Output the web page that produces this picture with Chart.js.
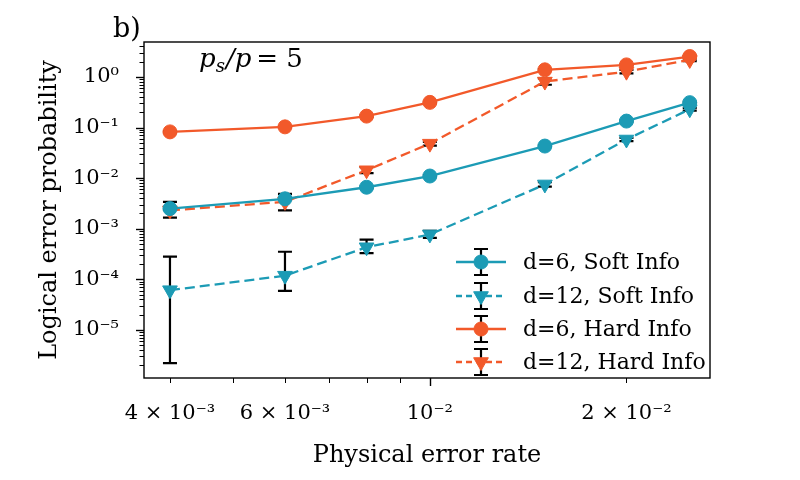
<!DOCTYPE html>
<html>
<head>
<meta charset="utf-8">
<script src="https://cdn.jsdelivr.net/npm/chart.js@4.4.1/dist/chart.umd.min.js"></script>
<style>
  html, body { margin: 0; padding: 0; background: #fff; }
  #c { display: block; }
</style>
</head>
<body>
<canvas id="c" width="800" height="480"></canvas>
<script>
// physical error rates (x)
const pRates = [0.004, 0.006, 0.008, 0.01, 0.015, 0.02, 0.025];

// logical error probabilities
const softD6 = [2.5e-3, 3.9e-3, 6.6e-3, 1.1e-2, 4.3e-2, 0.134, 0.31];
const softD12 = [6.1e-5, 1.18e-4, 4.3e-4, 7.7e-4, 7.5e-3, 0.058, 0.23];
const hardD6 = [0.082, 0.103, 0.168, 0.314, 1.38, 1.73, 2.53];
const hardD12 = [2.3e-3, 3.4e-3, 0.0143, 0.048, 0.81, 1.27, 2.17];

// error bar bounds (lower / upper)
const softD6Lo = [2.35e-3, 3.7e-3, 6.3e-3, 1.05e-2, 4.15e-2, 0.13, 0.30];
const softD6Hi = [2.65e-3, 4.1e-3, 6.9e-3, 1.15e-2, 4.45e-2, 0.138, 0.32];
const softD12Lo = [2.2e-6, 5.9e-5, 3.3e-4, 6.6e-4, 6.8e-3, 0.054, 0.215];
const softD12Hi = [2.8e-4, 3.5e-4, 6.1e-4, 9.1e-4, 8.3e-3, 0.062, 0.245];
const hardD6Lo = [0.079, 0.1, 0.163, 0.305, 1.34, 1.68, 2.46];
const hardD6Hi = [0.085, 0.106, 0.173, 0.323, 1.42, 1.78, 2.6];
const hardD12Lo = [1.65e-3, 2.3e-3, 0.0125, 0.044, 0.7, 1.18, 2.05];
const hardD12Hi = [3.4e-3, 4.9e-3, 0.0165, 0.052, 0.93, 1.37, 2.3];

const seriesNames = ['d=6, Soft Info', 'd=12, Soft Info', 'd=6, Hard Info', 'd=12, Hard Info'];

// axis ticks
const xTickVals = [0.004, 0.005, 0.006, 0.007, 0.008, 0.009, 0.01, 0.02];
const xTickLabels = { 0.004: '4 × 10⁻³', 0.006: '6 × 10⁻³', 0.01: '10⁻²', 0.02: '2 × 10⁻²' };
const xMajor = [0.01];
const yDecades = [1e-6, 1e-5, 1e-4, 1e-3, 1e-2, 1e-1, 1];
const yTickLabels = { 1e-5: '10⁻⁵', 1e-4: '10⁻⁴', 1e-3: '10⁻³', 1e-2: '10⁻²', 1e-1: '10⁻¹', 1: '10⁰' };

const X_MIN = 3.65e-3, X_MAX = 0.02685;
const Y_MIN = 1.12e-6, Y_MAX = 4.9;

const BLUE = '#1c9bb5';
const ORANGE = '#f2592a';
const SERIF = '"DejaVu Serif", serif';

const yTickVals = [];
yDecades.forEach(d => {
    for (let k = 1; k <= 9; k++) {
        const v = +(d * k).toPrecision(3);
        if (v >= Y_MIN && v <= Y_MAX) yTickVals.push(v);
    }
});

function pts(ys) {
    return pRates.map((x, i) => ({ x: x, y: ys[i] }));
}

function mkSet(label, ys, lo, hi, color, dashed, tri) {
    return {
        label: label,
        data: pts(ys),
        errLo: lo,
        errHi: hi,
        borderColor: color,
        backgroundColor: color,
        pointBackgroundColor: color,
        pointBorderColor: color,
        borderWidth: 2.3,
        borderDash: dashed ? [10, 5] : [],
        pointStyle: tri ? 'triangle' : 'circle',
        rotation: tri ? 180 : 0,
        pointRadius: tri ? 8.5 : 7,
        pointBorderWidth: 1,
        tension: 0,
        fill: false
    };
}

const datasets = [
    mkSet(seriesNames[0], softD6, softD6Lo, softD6Hi, BLUE, false, false),
    mkSet(seriesNames[1], softD12, softD12Lo, softD12Hi, BLUE, true, true),
    mkSet(seriesNames[2], hardD6, hardD6Lo, hardD6Hi, ORANGE, false, false),
    mkSet(seriesNames[3], hardD12, hardD12Lo, hardD12Hi, ORANGE, true, true)
];

// error bars under the markers
const errorBars = {
    id: 'errorBars',
    beforeDatasetsDraw(chart) {
        const ctx = chart.ctx, y = chart.scales.y, area = chart.chartArea;
        ctx.save();
        ctx.beginPath();
        ctx.rect(area.left, area.top, area.right - area.left, area.bottom - area.top);
        ctx.clip();
        ctx.strokeStyle = '#000';
        ctx.lineWidth = 2.2;
        chart.data.datasets.forEach((ds, di) => {
            const meta = chart.getDatasetMeta(di);
            meta.data.forEach((pt, i) => {
                const yl = y.getPixelForValue(ds.errLo[i]);
                const yh = y.getPixelForValue(ds.errHi[i]);
                ctx.beginPath();
                ctx.moveTo(pt.x, yl); ctx.lineTo(pt.x, yh);
                ctx.moveTo(pt.x - 7, yl); ctx.lineTo(pt.x + 7, yl);
                ctx.moveTo(pt.x - 7, yh); ctx.lineTo(pt.x + 7, yh);
                ctx.stroke();
            });
        });
        ctx.restore();
    }
};

// frame, tick marks, legend and annotations
const decorations = {
    id: 'decorations',
    afterDraw(chart) {
        const ctx = chart.ctx, a = chart.chartArea;
        const xs = chart.scales.x, ys = chart.scales.y;
        ctx.save();
        ctx.strokeStyle = '#000';
        ctx.lineWidth = 1.4;
        ctx.strokeRect(a.left, a.top, a.right - a.left, a.bottom - a.top);

        // y ticks
        yTickVals.forEach(v => {
            const py = Math.round(ys.getPixelForValue(v)) + 0.5;
            const major = yDecades.includes(v);
            ctx.lineWidth = major ? 1.4 : 1;
            ctx.beginPath();
            ctx.moveTo(a.left, py);
            ctx.lineTo(a.left - (major ? 8 : 4.5), py);
            ctx.stroke();
        });
        // x ticks
        xTickVals.forEach(v => {
            const px = Math.round(xs.getPixelForValue(v)) + 0.5;
            const major = xMajor.includes(v);
            ctx.lineWidth = major ? 1.4 : 1;
            ctx.beginPath();
            ctx.moveTo(px, a.bottom);
            ctx.lineTo(px, a.bottom + (major ? 8 : 5));
            ctx.stroke();
        });

        // panel label
        ctx.fillStyle = '#000';
        ctx.textBaseline = 'alphabetic';
        ctx.textAlign = 'left';
        ctx.font = '27px ' + SERIF;
        ctx.fillText('b)', a.left - 31, a.top - 5);

        // p_s/p = 5
        let tx = a.left + 55;
        const ty = a.top + 25;
        ctx.font = 'italic 26px ' + SERIF;
        ctx.fillText('p', tx, ty);
        tx += ctx.measureText('p').width;
        ctx.font = 'italic 18px ' + SERIF;
        ctx.fillText('s', tx, ty + 5);
        tx += ctx.measureText('s').width + 1;
        ctx.font = 'italic 26px ' + SERIF;
        ctx.fillText('/p', tx, ty);
        tx += ctx.measureText('/p').width + 5;
        ctx.font = '26px ' + SERIF;
        ctx.fillText('= 5', tx, ty);

        // legend
        const rows = [a.bottom - 116, a.bottom - 82, a.bottom - 49, a.bottom - 16];
        const lx0 = a.right - 254, lx1 = a.right - 204, mx = (lx0 + lx1) / 2;
        chart.data.datasets.forEach((ds, i) => {
            const ry = rows[i];
            ctx.strokeStyle = ds.borderColor;
            ctx.lineWidth = 2.3;
            ctx.setLineDash(ds.borderDash.length ? [6, 4] : []);
            ctx.beginPath();
            ctx.moveTo(lx0, ry); ctx.lineTo(lx1, ry);
            ctx.stroke();
            ctx.setLineDash([]);
            ctx.strokeStyle = '#000';
            ctx.lineWidth = 2.2;
            ctx.beginPath();
            ctx.moveTo(mx, ry - 13); ctx.lineTo(mx, ry + 13);
            ctx.moveTo(mx - 7, ry - 13); ctx.lineTo(mx + 7, ry - 13);
            ctx.moveTo(mx - 7, ry + 13); ctx.lineTo(mx + 7, ry + 13);
            ctx.stroke();
            ctx.fillStyle = ds.pointBackgroundColor;
            ctx.strokeStyle = ds.pointBorderColor;
            ctx.lineWidth = 1;
            Chart.helpers.drawPoint(ctx, {
                pointStyle: ds.pointStyle, radius: ds.pointRadius,
                rotation: ds.rotation, borderWidth: 1
            }, mx, ry);
            ctx.fillStyle = '#000';
            ctx.font = '22px ' + SERIF;
            ctx.textBaseline = 'middle';
            ctx.fillText(ds.label, a.right - 187, ry + 1);
        });
        ctx.restore();
    }
};

new Chart(document.getElementById('c'), {
    type: 'line',
    data: { datasets: datasets },
    options: {
        responsive: false,
        animation: false,
        devicePixelRatio: 1,
        layout: { padding: { top: 42, right: 90, left: 0, bottom: 0 } },
        plugins: { legend: { display: false }, tooltip: { enabled: false } },
        scales: {
            x: {
                type: 'logarithmic',
                min: X_MIN, max: X_MAX, bounds: 'data',
                afterBuildTicks: s => { s.ticks = xTickVals.map(v => ({ value: v })); },
                afterFit: s => { s.height = 102; },
                grid: { display: false },
                border: { display: false },
                ticks: {
                    autoSkip: false, maxRotation: 0, padding: 15,
                    color: '#000', font: { family: SERIF, size: 21 },
                    callback: v => xTickLabels[v] || ''
                },
                title: {
                    display: true, text: 'Physical error rate', color: '#000',
                    font: { family: SERIF, size: 24 }, padding: { top: 0, bottom: 10 }
                }
            },
            y: {
                type: 'logarithmic',
                min: Y_MIN, max: Y_MAX, bounds: 'data',
                afterBuildTicks: s => { s.ticks = yTickVals.map(v => ({ value: v })); },
                afterFit: s => { s.width = 144; },
                grid: { display: false },
                border: { display: false },
                ticks: {
                    autoSkip: false, padding: 17,
                    color: '#000', font: { family: SERIF, size: 21 },
                    callback: v => yTickLabels[+(+v).toPrecision(3)] || ''
                },
                title: {
                    display: true, text: 'Logical error probability', color: '#000',
                    font: { family: SERIF, size: 24 }, padding: { top: 35, bottom: 0 }
                }
            }
        }
    },
    plugins: [errorBars, decorations]
});
</script>
</body>
</html>
